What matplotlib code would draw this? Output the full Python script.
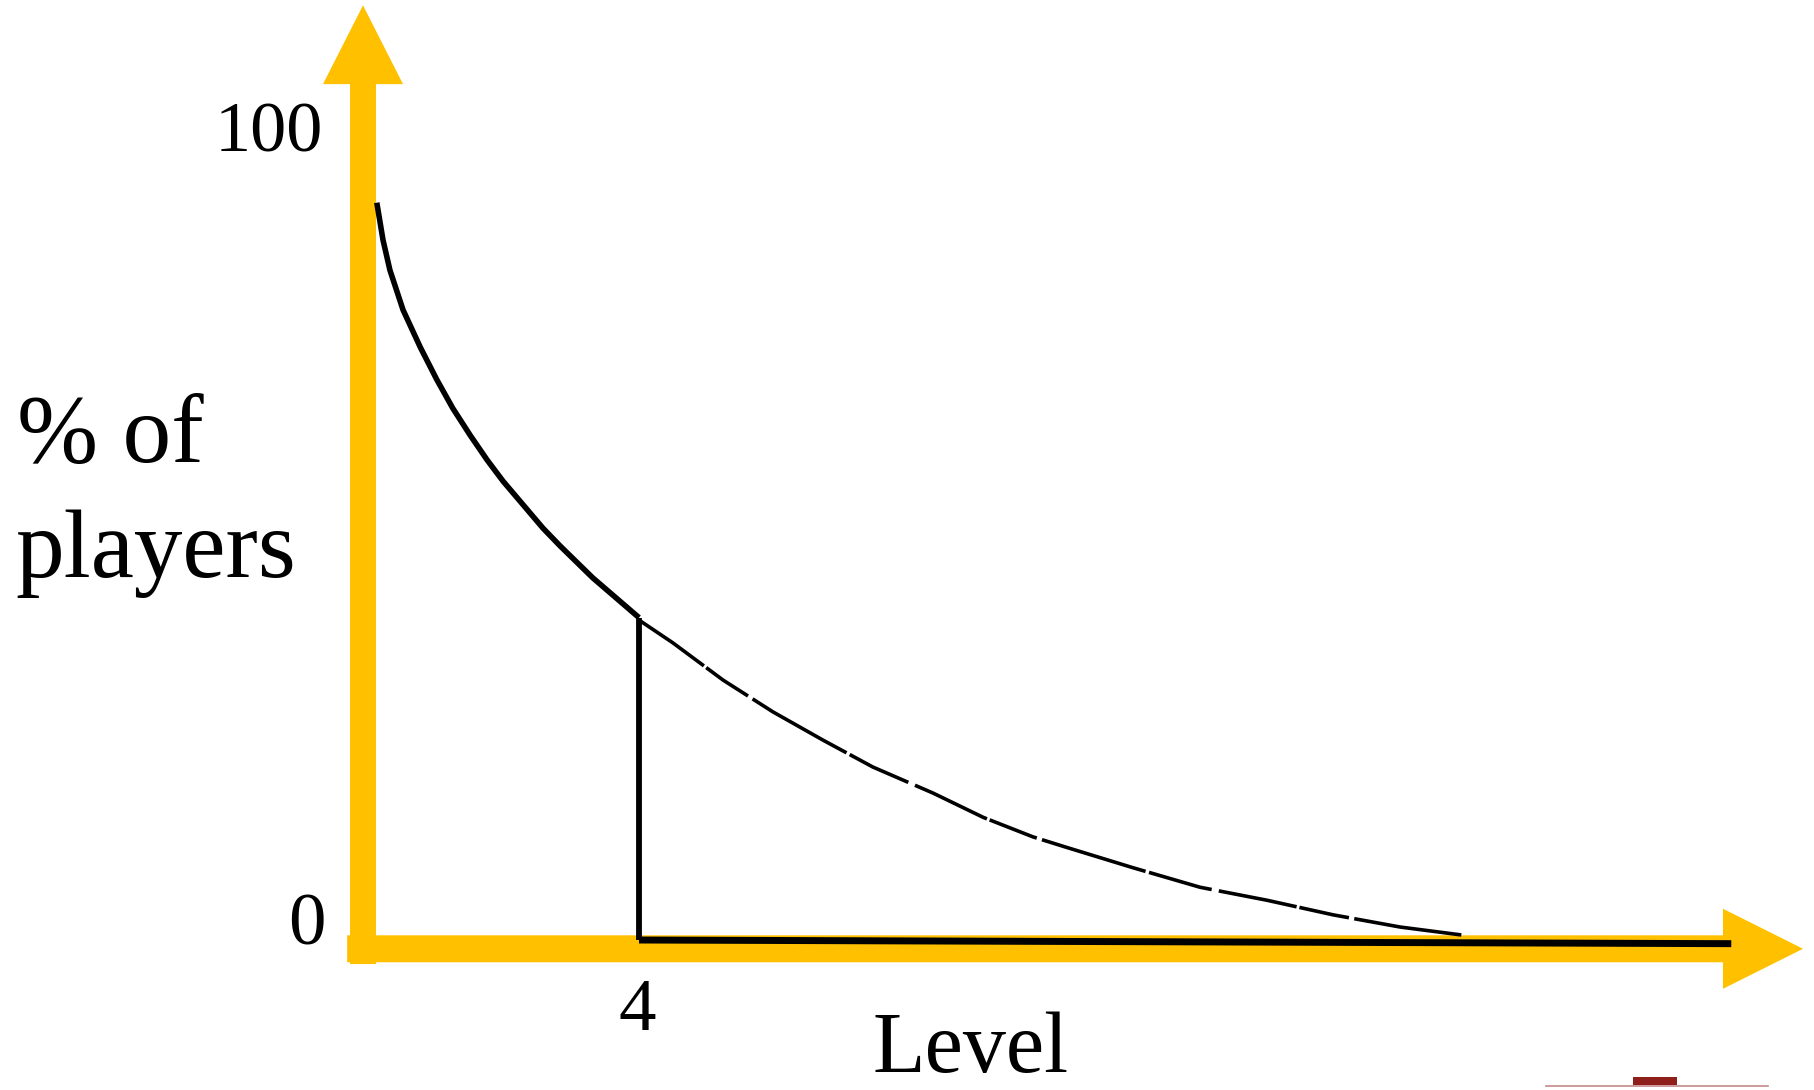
"""Sketch of the level drop-off chart: % of players against level."""

import matplotlib.pyplot as plt
from matplotlib.patches import Rectangle

plt.rcParams["font.family"] = ["Liberation Serif", "DejaVu Serif"]

# Data (level, % of players)
early_levels = [0.20, 0.29, 0.39, 0.58, 0.83, 1.07, 1.30, 1.55, 1.80, 2.03,
                2.28, 2.61, 2.86, 3.33, 4.0]
early_pct = [90.8, 86.2, 82.5, 77.6, 73.0, 69.0, 65.5, 62.2, 59.1, 56.5,
             54.0, 50.7, 48.5, 44.6, 39.7]

late_levels = [4.0, 4.49, 5.22, 5.94, 6.67, 7.39, 8.26, 8.99, 9.71, 10.2,
               11.16, 12.13, 13.10, 14.06, 15.03, 15.94]
late_pct = [39.4, 36.6, 32.0, 28.1, 24.6, 21.3, 18.1, 15.1, 12.7, 11.4,
            8.9, 6.5, 4.9, 3.1, 1.6, 0.6]

cutoff_level = 4
cutoff_pct = 39.6
baseline_levels = [4.0, 19.83]
baseline_pct = [0.0, -0.45]

y_ticks = [0, 100]
x_ticks = [4]

YELLOW = "#FFC000"

# Axes limits chosen so the canvas maps onto the reference layout
X_MIN, X_MAX = -5.261, 21.029
Y_MIN, Y_MAX = -18.47, 115.76

fig = plt.figure(figsize=(18.14, 10.9), dpi=100)
ax = fig.add_axes([0, 0, 1, 1])
ax.set_xlim(X_MIN, X_MAX)
ax.set_ylim(Y_MIN, Y_MAX)
ax.axis("off")

# Yellow vertical arrow
shaft_w, head_w = 0.188, 0.58
v_bottom, v_base, v_tip = -2.96, 105.4, 115.1
ax.fill(
    [-shaft_w, -shaft_w, -head_w, 0, head_w, shaft_w, shaft_w],
    [v_bottom, v_base, v_base, v_tip, v_base, v_base, v_bottom],
    color=YELLOW, lw=0, zorder=1,
)

# Yellow horizontal arrow
h_start, h_base, h_tip = -0.23, 19.71, 20.87
h_mid, h_half, h_head = -1.08, 1.66, 4.93
ax.fill(
    [h_start, h_base, h_base, h_tip, h_base, h_base, h_start],
    [h_mid - h_half, h_mid - h_half, h_mid - h_head, h_mid,
     h_mid + h_head, h_mid + h_half, h_mid + h_half],
    color=YELLOW, lw=0, zorder=1,
)

# Curve, cut-off marker and baseline
ax.plot(early_levels, early_pct, color="black", lw=4.0,
        solid_capstyle="butt", solid_joinstyle="round", zorder=3)
ax.plot(late_levels, late_pct, color="black", lw=2.6,
        linestyle=(0, (22, 0.8, 14, 1.5, 30, 1.0, 18, 2.0)),
        dash_joinstyle="round", zorder=3)
ax.plot([cutoff_level, cutoff_level], [0, cutoff_pct], color="black",
        lw=4.2, solid_capstyle="butt", zorder=3)
ax.plot(baseline_levels, baseline_pct, color="black", lw=5,
        solid_capstyle="butt", zorder=3)

# Tick labels
ax.text(-0.58, y_ticks[1] - 0.8, str(y_ticks[1]), fontsize=52, ha="right",
        va="center")
ax.text(-0.54, y_ticks[0] + 1.6, str(y_ticks[0]), fontsize=54, ha="right",
        va="center")
for lvl in x_ticks:
    ax.text(lvl - 0.03, -4.7, str(lvl), fontsize=54, ha="center", va="top")

# Axis titles
ax.text(-5.01, 58.9, "% of", fontsize=70, ha="left", va="baseline")
ax.text(-5.04, 44.7, "players", fontsize=70, ha="left", va="baseline")
ax.text(8.81, -16.3, "Level", fontsize=62, ha="center", va="baseline")

# Slide footer marks
ax.plot([17.15, 20.36], [-17.93, -17.93], color="#C48A8A", lw=1.2)
ax.add_patch(Rectangle((18.41, -17.86), 0.63, 0.99, color="#8E1F1A", lw=0))

fig.savefig("out.png", dpi=100)
